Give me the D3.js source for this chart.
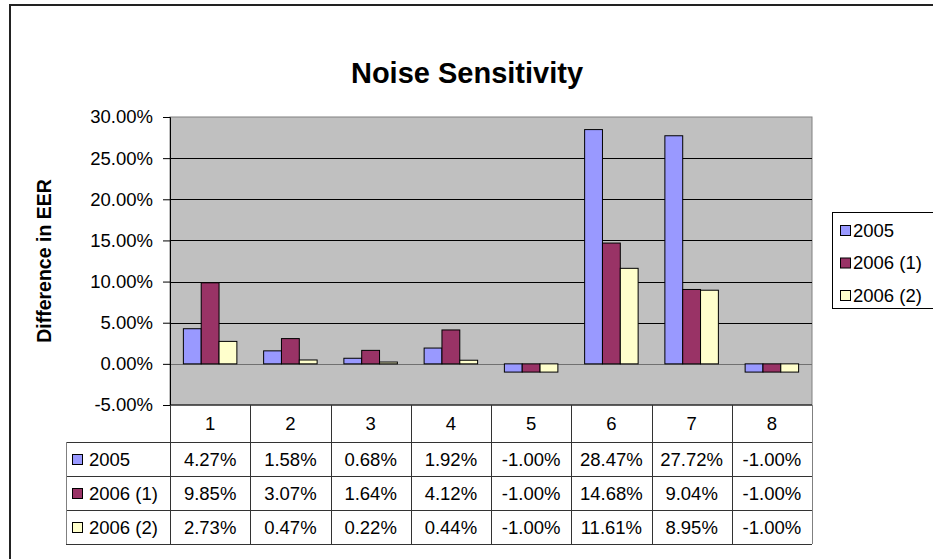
<!DOCTYPE html>
<html>
<head>
<meta charset="utf-8">
<script src="https://cdn.jsdelivr.net/npm/d3@7"></script>
<style>
  html, body { margin: 0; padding: 0; background: #fff; }
  svg { display: block; font-family: Arial, "Liberation Sans", sans-serif; }
</style>
</head>
<body>
<svg id="chart" width="933" height="559"></svg>
<script>
// Noise sensitivity: change in EER per condition, three evaluation sets
const categories = ["1", "2", "3", "4", "5", "6", "7", "8"];
const seriesNames = ["2005", "2006 (1)", "2006 (2)"];
const values2005 = [0.0427, 0.0158, 0.0068, 0.0192, -0.01, 0.2847, 0.2772, -0.01];
const values2006a = [0.0985, 0.0307, 0.0164, 0.0412, -0.01, 0.1468, 0.0904, -0.01];
const values2006b = [0.0273, 0.0047, 0.0022, 0.0044, -0.01, 0.1161, 0.0895, -0.01];
const yTicks = [-0.05, 0, 0.05, 0.10, 0.15, 0.20, 0.25, 0.30];
const seriesColors = ["#9999FF", "#993366", "#FFFFCC"];

const seriesValues = [values2005, values2006a, values2006b];
const series = seriesNames.map((name, i) => ({ name, color: seriesColors[i], values: seriesValues[i] }));

const svg = d3.select("#chart");
// plain hyphen for negatives, as in the spreadsheet
const locale = d3.formatLocale({ decimal: ".", thousands: ",", grouping: [3], currency: ["$", ""], minus: "-" });
const fmt = locale.format(".2%");

const plot = { left: 170, right: 812, top: 117, bottom: 405 };
const tableRows = [442, 476, 510, 544];
const tableLeft = 66;
const fontSize = 18.5;

// Outer chart frame
svg.append("rect")
  .attr("x", 10).attr("y", 5).attr("width", 1000).attr("height", 1000)
  .attr("fill", "#fff").attr("stroke", "#222").attr("stroke-width", 2);

// Title
svg.append("text")
  .attr("x", 467).attr("y", 83)
  .attr("text-anchor", "middle")
  .attr("font-weight", "bold").attr("font-size", 29)
  .text("Noise Sensitivity");

const x0 = d3.scaleBand().domain(categories).range([plot.left, plot.right]).padding(0);
const x1 = d3.scaleBand().domain(seriesNames).range([0, x0.bandwidth()])
  .paddingInner(0).paddingOuter(0.75);
const y = d3.scaleLinear().domain([-0.05, 0.30]).range([plot.bottom, plot.top]);

// Plot area background
svg.append("rect")
  .attr("x", plot.left).attr("y", plot.top)
  .attr("width", plot.right - plot.left).attr("height", plot.bottom - plot.top)
  .attr("fill", "#C0C0C0").attr("stroke", "#808080").attr("stroke-width", 1);

// Horizontal gridlines
svg.append("g").selectAll("line")
  .data(yTicks.filter(t => t > -0.05 && t < 0.30))
  .join("line")
  .attr("x1", plot.left).attr("x2", plot.right)
  .attr("y1", d => Math.round(y(d)) + 0.5).attr("y2", d => Math.round(y(d)) + 0.5)
  .attr("stroke", d => d === 0 ? "#707070" : "#000").attr("stroke-width", 1);

// Value axis
const yAxis = d3.axisLeft(y).tickValues(yTicks).tickFormat(fmt).tickSize(7).tickPadding(10);
const yg = svg.append("g").attr("transform", `translate(${plot.left},0)`).call(yAxis);
yg.select(".domain").attr("stroke", "#000");
yg.selectAll(".tick line").attr("stroke", "#000");
yg.selectAll(".tick text")
  .attr("font-size", fontSize).attr("font-family", "Arial, 'Liberation Sans', sans-serif")
  .attr("fill", "#000");

// Axis title
svg.append("text")
  .attr("transform", "translate(51,261) rotate(-90)")
  .attr("text-anchor", "middle")
  .attr("font-weight", "bold").attr("font-size", 19.5)
  .text("Difference in EER");

// Bars
const groups = svg.append("g").selectAll("g")
  .data(series).join("g")
  .attr("fill", d => d.color);
groups.selectAll("rect")
  .data(s => s.values.map((v, i) => ({ s: s.name, cat: categories[i], v })))
  .join("rect")
  .attr("x", d => x0(d.cat) + x1(d.s))
  .attr("y", d => y(Math.max(0, d.v)))
  .attr("width", x1.bandwidth())
  .attr("height", d => Math.abs(y(d.v) - y(0)))
  .attr("stroke", "#000").attr("stroke-width", 1);

// Data table
const table = svg.append("g").attr("stroke", "#333").attr("stroke-width", 1);
// bottom axis line
table.append("line")
  .attr("x1", plot.left).attr("x2", plot.right)
  .attr("y1", plot.bottom).attr("y2", plot.bottom).attr("stroke", "#000");
// horizontal rules
table.selectAll("line.h")
  .data(tableRows).join("line").attr("class", "h")
  .attr("x1", tableLeft).attr("x2", plot.right)
  .attr("y1", d => d + 0.5).attr("y2", d => d + 0.5);
// vertical rules at category boundaries
const boundaries = categories.map(c => x0(c)).concat([plot.right]);
table.selectAll("line.v")
  .data(boundaries).join("line").attr("class", "v")
  .attr("x1", d => Math.round(d) + 0.5).attr("x2", d => Math.round(d) + 0.5)
  .attr("y1", plot.bottom).attr("y2", tableRows[3])
  .attr("stroke", (d, i) => i === boundaries.length - 1 ? "#808080" : "#333");
table.append("line")
  .attr("x1", tableLeft + 0.5).attr("x2", tableLeft + 0.5)
  .attr("y1", tableRows[0]).attr("y2", tableRows[3]).attr("stroke", "#808080");

// category header labels
svg.append("g").selectAll("text")
  .data(categories).join("text")
  .attr("x", d => x0(d) + x0.bandwidth() / 2)
  .attr("y", (plot.bottom + tableRows[0]) / 2 + 6.5)
  .attr("text-anchor", "middle").attr("font-size", fontSize)
  .text(d => d);

// series rows
const rows = svg.append("g").selectAll("g")
  .data(series).join("g")
  .attr("transform", (d, i) => `translate(0,${(tableRows[i] + tableRows[i + 1]) / 2})`);
rows.append("rect")
  .attr("x", 72.5).attr("y", -4.5).attr("width", 10).attr("height", 10)
  .attr("fill", d => d.color).attr("stroke", "#000").attr("stroke-width", 1);
rows.append("text")
  .attr("x", 89).attr("y", 6.5).attr("font-size", fontSize)
  .text(d => d.name);
rows.selectAll("text.val")
  .data(d => d.values.map((v, i) => ({ v, cat: categories[i] })))
  .join("text").attr("class", "val")
  .attr("x", d => x0(d.cat) + x0.bandwidth() / 2)
  .attr("y", 6.5)
  .attr("text-anchor", "middle").attr("font-size", fontSize)
  .text(d => fmt(d.v));

// Legend
const legend = svg.append("g");
legend.append("rect")
  .attr("x", 832.5).attr("y", 212.5).attr("width", 200).attr("height", 96)
  .attr("fill", "#fff").attr("stroke", "#000").attr("stroke-width", 1);
const items = legend.selectAll("g.item")
  .data(series).join("g").attr("class", "item")
  .attr("transform", (d, i) => `translate(0,${230 + i * 32.5})`);
items.append("rect")
  .attr("x", 840.5).attr("y", -4.5).attr("width", 10).attr("height", 10)
  .attr("fill", d => d.color).attr("stroke", "#000").attr("stroke-width", 1);
items.append("text")
  .attr("x", 853).attr("y", 6.5).attr("font-size", fontSize)
  .text(d => d.name);
</script>
</body>
</html>
